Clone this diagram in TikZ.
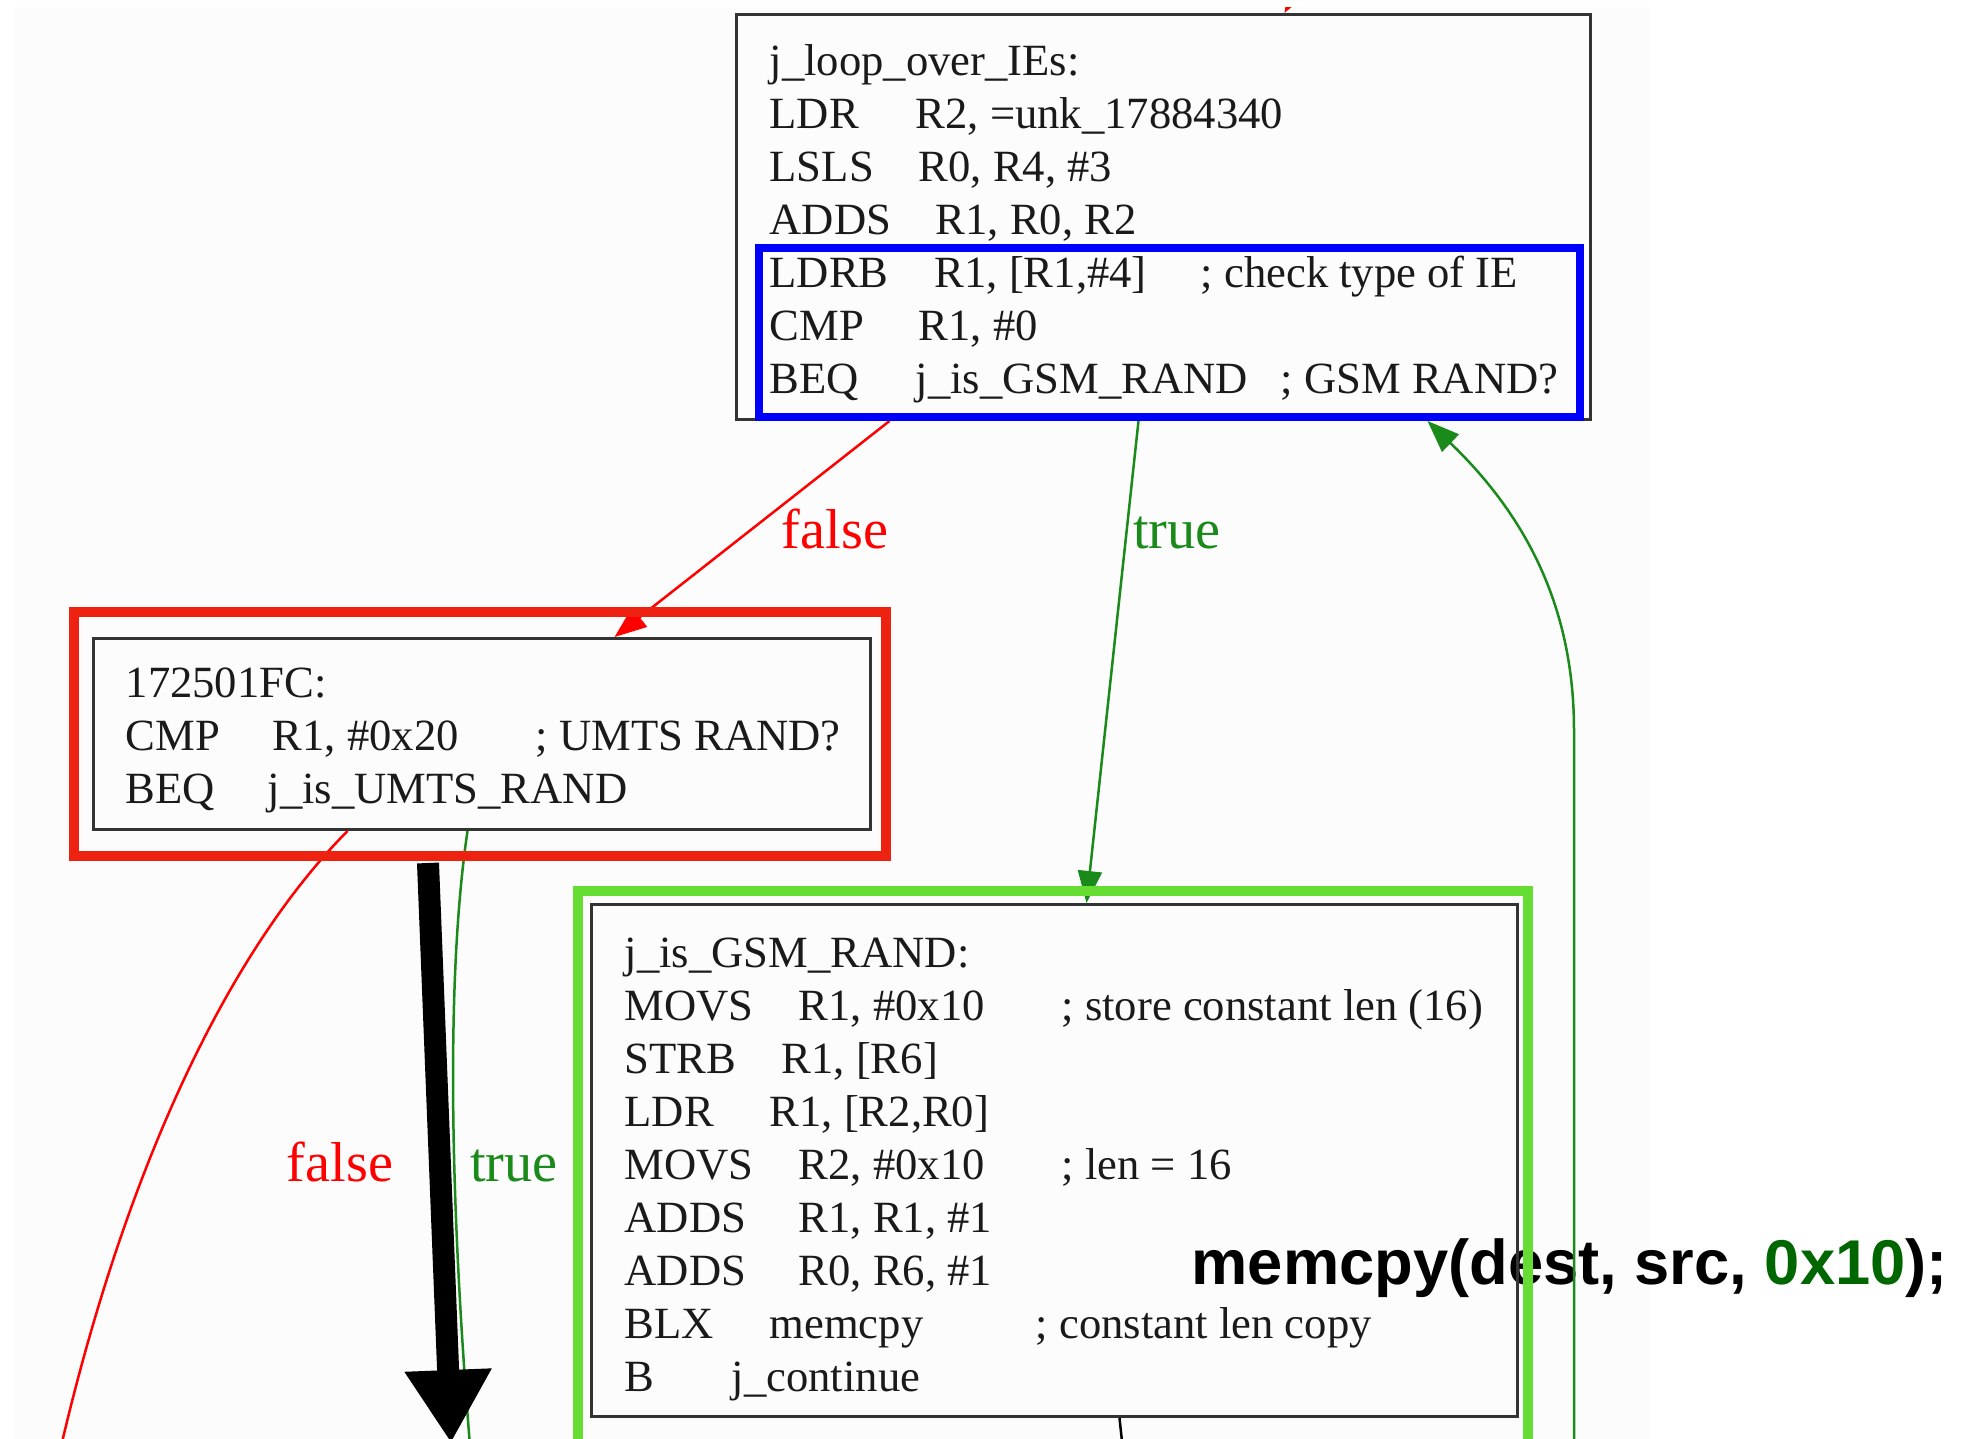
\documentclass[tikz,border=0pt]{standalone}
\usepackage{fontspec}
\setmainfont{Liberation Serif}
\newfontfamily\memfont{Liberation Sans}
\usetikzlibrary{arrows.meta}

\definecolor{hlred}{HTML}{EE2211}
\definecolor{hlgreen}{HTML}{66DD33}
\definecolor{hlblue}{HTML}{0000FF}
\definecolor{edgegreen}{HTML}{1A8A1A}
\definecolor{constgreen}{HTML}{006600}
\definecolor{graphbg}{HTML}{FCFCFC}
\definecolor{boxgray}{HTML}{333333}
\definecolor{codegray}{HTML}{1A1A1A}

\newcommand{\codefont}{\fontsize{12.7}{15.08}\selectfont}
\newcommand{\insn}[3]{\makebox[#1][l]{#2}#3}

\begin{document}
\begin{tikzpicture}[
  x=0.1mm, y=-0.1mm,
  codebox/.style={draw=boxgray, line width=0.3mm, inner sep=0pt, anchor=north west},
  code/.style={anchor=north west, inner sep=0pt, align=left, font=\codefont, text=codegray},
  hl/.style={line width=1mm},
  edgelbl/.style={anchor=base, inner sep=0pt, font=\fontsize{16}{19}\selectfont},
  falseedge/.style={draw=red, line width=0.25mm, -{Triangle[length=3.2mm,width=2.4mm]}},
  trueedge/.style={draw=edgegreen, line width=0.25mm, -{Triangle[length=3.2mm,width=2.4mm]}},
  jumpedge/.style={draw=black, line width=0.25mm, -{Triangle[length=3.2mm,width=2.4mm]}}
]
\useasboundingbox (0,0) rectangle (1974,1439);
\fill[white] (0,0) rectangle (1974,1439);
\fill[graphbg] (13,7) rectangle (1650,1439);

% call that the block boils down to
\node[anchor=base west, inner sep=0pt, font=\memfont\bfseries\fontsize{18}{22}\selectfont] (memcall) at (1191,1284)
  {memcpy(dest, src, \textcolor{constgreen}{0x10});};

\begin{scope}
\clip (0,7) rectangle (1650,1439);

% basic blocks
\node[codebox, minimum width=85.4mm, minimum height=40.5mm] (loop) at (735,13) {};
\node[code] (loop-txt) at (769,40) {\rule{0pt}{10pt}j\_loop\_over\_IEs:\\
  \insn{14.6mm}{LDR}{R2, =unk\_17884340}\\
  \insn{14.9mm}{LSLS}{R0, R4, \#3}\\
  \insn{16.6mm}{ADDS}{R1, R0, R2}\\
  \insn{16.5mm}{LDRB}{\makebox[26.6mm][l]{R1, [R1,\#4]}; check type of IE}\\
  \insn{14.9mm}{CMP}{R1, \#0}\\
  \insn{14.6mm}{BEQ}{\makebox[36.5mm][l]{j\_is\_GSM\_RAND}; GSM RAND?}};

\node[codebox, minimum width=77.7mm, minimum height=19.1mm] (umts) at (92,637) {};
\node[code] (umts-txt) at (125,662) {\rule{0pt}{10pt}172501FC:\\
  \insn{14.7mm}{CMP}{\makebox[26.3mm][l]{R1, \#0x20}; UMTS RAND?}\\
  \insn{14.2mm}{BEQ}{j\_is\_UMTS\_RAND}};

\node[codebox, minimum width=92.6mm, minimum height=51.2mm] (gsm) at (590,903) {};
\node[code] (gsm-txt) at (624,932) {\rule{0pt}{10pt}j\_is\_GSM\_RAND:\\
  \insn{17.4mm}{MOVS}{\makebox[26.3mm][l]{R1, \#0x10}; store constant len (16)}\\
  \insn{15.7mm}{STRB}{R1, [R6]}\\
  \insn{14.5mm}{LDR}{R1, [R2,R0]}\\
  \insn{17.4mm}{MOVS}{\makebox[26.3mm][l]{R2, \#0x10}; len = 16}\\
  \insn{17.4mm}{ADDS}{R1, R1, \#1}\\
  \insn{17.4mm}{ADDS}{R0, R6, \#1}\\
  \insn{14.5mm}{BLX}{\makebox[26.6mm][l]{memcpy}; constant len copy}\\
  \insn{10.7mm}{B}{j\_continue}};

% ends that leave the crop
\coordinate (from-top) at (1300,-15);
\coordinate (to-left) at (45,1520);
\coordinate (to-mid) at (472,1470);
\coordinate (to-cont) at (1124,1460);
\coordinate (from-cont) at (1574,1480);

% edges
\draw[falseedge] (from-top) -- ([xshift=12.1mm]loop.north);
\draw[falseedge] ([xshift=-27.4mm]loop.south) -- ([xshift=13.25mm]umts.north);
\draw[trueedge] ([xshift=-2.5mm]loop.south) -- ([xshift=3.2mm]gsm.north);
\draw[trueedge] (from-cont) -- (1574,730) .. controls (1574,600) and (1520,510) .. ([xshift=26.4mm]loop.south);
\draw[falseedge, -] ([xshift=-13.45mm]umts.south) .. controls (220,960) and (110,1200) .. (to-left);
\draw[trueedge, -] ([xshift=-1.45mm]umts.south) .. controls (450,950) and (445,1150) .. (to-mid);
\draw[jumpedge, -] ([xshift=6.5mm]gsm.south) -- (to-cont);

\node[edgelbl, text=red] (f-top) at (835,548) {false};
\node[edgelbl, text=edgegreen] (t-top) at (1177,548) {true};
\node[edgelbl, text=red] (f-low) at (340,1181) {false};
\node[edgelbl, text=edgegreen] (t-low) at (514,1181) {true};

% highlights
\draw[hlblue, line width=0.8mm] (759,248) rectangle (1580,417);
\draw[hlred, hl] (74,612) rectangle (886,856);
\draw[hlgreen, hl] (578,891) rectangle (1528,1480);

% big pointer
\coordinate (ptr-a) at (428,863);
\coordinate (ptr-b) at (451,1443);
\draw[line width=2.2mm, -{Triangle[length=7.3mm,width=8.2mm]}] (ptr-a) -- (ptr-b);
\end{scope}
\end{tikzpicture}
\end{document}
